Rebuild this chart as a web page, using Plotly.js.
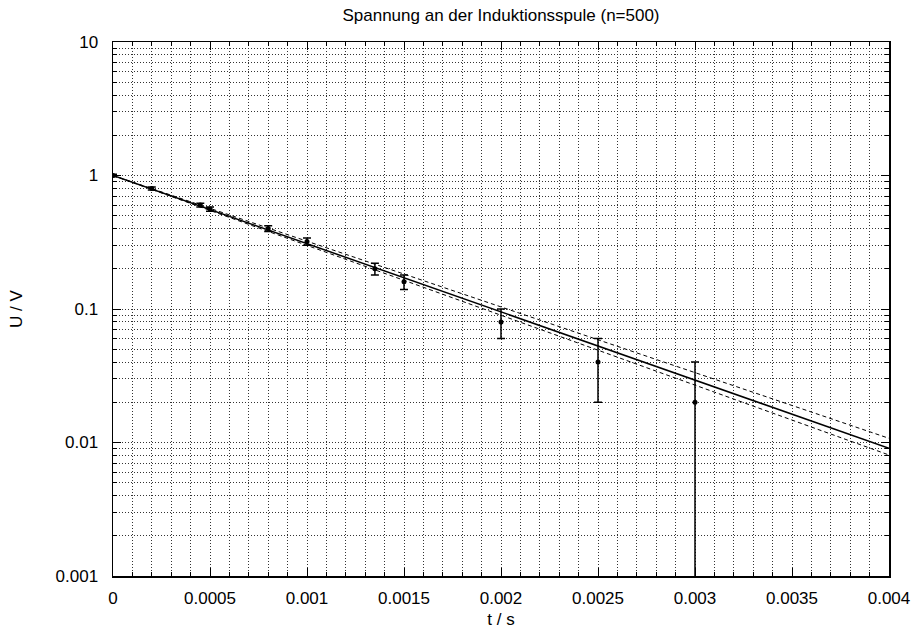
<!DOCTYPE html>
<html>
<head>
<meta charset="utf-8">
<script src="https://cdn.plot.ly/plotly-3.0.1.min.js"></script>
<style>html,body{margin:0;padding:0;background:#fff;}#chart{width:914px;height:632px;}</style>
</head>
<body>
<div id="chart"></div>
<script>
// Measured data
const tData = [0, 0.0002, 0.00045, 0.0005, 0.0008, 0.001, 0.00135, 0.0015, 0.002, 0.0025, 0.003];
const uData = [1.0, 0.8, 0.6, 0.56, 0.4, 0.32, 0.2, 0.16, 0.08, 0.04, 0.02];
const uErr  = [0.02, 0.02, 0.02, 0.02, 0.02, 0.02, 0.02, 0.02, 0.02, 0.02, 0.02];

// Fit line and confidence band (straight lines on log scale)
const fitT   = [0, 0.004];
const fitU   = [1.0, 0.00905];
const upperU = [1.0, 0.01075];
const lowerU = [1.0, 0.00806];

const titleText = "Spannung an der Induktionsspule (n=500)";
const xTitle = "t / s";
const yTitle = "U / V";

const FONT = "Liberation Sans, Arial, Helvetica, sans-serif";
const gridStyle = {color: "#333", dash: "1px,2px"};

const traces = [
  {x: fitT, y: upperU, mode: "lines", line: {color: "#000", width: 1, dash: "4px,3px"}, hoverinfo: "skip"},
  {x: fitT, y: lowerU, mode: "lines", line: {color: "#000", width: 1, dash: "4px,3px"}, hoverinfo: "skip"},
  {x: fitT, y: fitU, mode: "lines", line: {color: "#000", width: 1.5}, hoverinfo: "skip"},
  {x: tData, y: uData, mode: "markers", marker: {color: "#000", size: 5},
   error_y: {type: "data", array: uErr, visible: true, color: "#000", thickness: 1.5, width: 4}}
];

const layout = {
  width: 914, height: 632,
  margin: {l: 113, r: 25, t: 42, b: 56},
  paper_bgcolor: "#fff", plot_bgcolor: "#fff",
  showlegend: false,
  font: {family: FONT, size: 17, color: "#000"},
  title: {text: titleText, font: {family: FONT, size: 17, color: "#000"},
          x: 0.5, xref: "paper", xanchor: "center", y: 1 - 15/632, yref: "container", yanchor: "middle"},
  xaxis: {
    range: [0, 0.004], tickmode: "linear", tick0: 0, dtick: 0.0005, tickformat: "~g",
    ticks: "inside", ticklen: 8, tickwidth: 1, tickcolor: "#000",
    showline: true, linecolor: "#000", linewidth: 1.5, mirror: "allticks",
    showgrid: true, gridcolor: gridStyle.color, griddash: gridStyle.dash, gridwidth: 1,
    zeroline: false, ticklabelstandoff: 6,
    minor: {tick0: 0, dtick: 0.0001, ticks: "inside", ticklen: 4, tickcolor: "#000",
            showgrid: true, gridcolor: gridStyle.color, griddash: gridStyle.dash, gridwidth: 1},
    title: {text: xTitle, font: {family: FONT, size: 17, color: "#000"}, standoff: 6}
  },
  yaxis: {
    type: "log", range: [-3, 1], tickmode: "linear", tick0: 0, dtick: 1, tickformat: "~g",
    ticks: "inside", ticklen: 8, tickwidth: 1, tickcolor: "#000",
    showline: true, linecolor: "#000", linewidth: 1.5, mirror: "allticks",
    showgrid: true, gridcolor: gridStyle.color, griddash: gridStyle.dash, gridwidth: 1,
    zeroline: false, ticklabelstandoff: 10,
    minor: {dtick: "D1", ticks: "inside", ticklen: 4, tickcolor: "#000",
            showgrid: true, gridcolor: gridStyle.color, griddash: gridStyle.dash, gridwidth: 1},
    title: {text: yTitle, font: {family: FONT, size: 17, color: "#000"}, standoff: 28}
  }
};

Plotly.newPlot("chart", traces, layout, {staticPlot: true, displayModeBar: false});
</script>
</body>
</html>
